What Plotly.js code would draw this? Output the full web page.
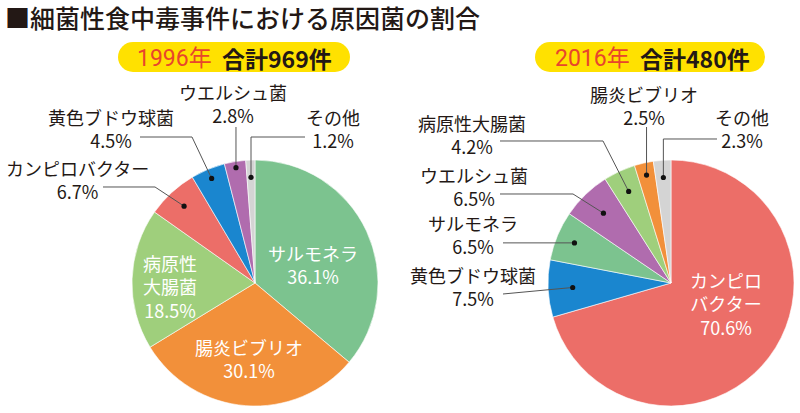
<!DOCTYPE html>
<html><head><meta charset="utf-8">
<script src="https://cdn.plot.ly/plotly-3.0.1.min.js"></script>
<style>html,body{margin:0;padding:0;background:#fff}#chart{width:800px;height:413px}</style>
</head><body><div id="chart"></div>
<script>
const W = 800, H = 413;

// ---------- data ----------
const titleText = '■細菌性食中毒事件における原因菌の割合';
const years = [1996, 2016];
const totals = [969, 480];
const cats1996 = ['サルモネラ', '腸炎ビブリオ', '病原性大腸菌', 'カンピロバクター', '黄色ブドウ球菌', 'ウエルシュ菌', 'その他'];
const vals1996 = [36.1, 30.1, 18.5, 6.7, 4.5, 2.8, 1.2];
const cats2016 = ['カンピロバクター', '黄色ブドウ球菌', 'サルモネラ', 'ウエルシュ菌', '病原性大腸菌', '腸炎ビブリオ', 'その他'];
const vals2016 = [70.6, 7.5, 6.5, 6.5, 4.2, 2.5, 2.3];

// ---------- styles / layout ----------
const FONT = '"Noto Sans CJK JP", "Noto Sans", sans-serif';
const PILLFONT = 'Roboto, "Noto Sans CJK JP", sans-serif';
const INK = '#231815';
const colorMap = {
  'サルモネラ': '#7cc38f', '腸炎ビブリオ': '#f2903a', '病原性大腸菌': '#9fcf7c',
  'カンピロバクター': '#ec6e68', '黄色ブドウ球菌': '#1a86cf', 'ウエルシュ菌': '#b06cae', 'その他': '#d4d4d4'
};
const pieGeo = [{cx: 255, cy: 283, r: 123}, {cx: 671, cy: 283, r: 123}];
const pillGeo = [{x0: 118, x1: 350, y0: 42, y1: 72, gap: 217}, {x0: 535, x1: 765, y0: 42, y1: 72, gap: 635}];

const labelCfg = [
  { // 1996
    inside: {
      'サルモネラ': {x: 313, y: 264},
      '腸炎ビブリオ': {x: 249, y: 358},
      '病原性大腸菌': {x: 170, y: 286, split: ['病原性', '大腸菌']}
    },
    outside: {
      'カンピロバクター': {x: 77, y: 179, kind: 'elbow', start: [103, 187], elbow: 155, f: 0.85},
      '黄色ブドウ球菌': {x: 111, y: 129, kind: 'elbow', start: [140, 137], elbow: 192, f: 0.92},
      'ウエルシュ菌': {x: 233, y: 104, kind: 'vert', startY: 127, f: 0.95},
      'その他': {x: 333, y: 129, kind: 'hv', start: [305, 137], f: 0.86}
    }
  },
  { // 2016
    inside: {
      'カンピロバクター': {x: 726, y: 303, split: ['カンピロ', 'バクター']}
    },
    outside: {
      '腸炎ビブリオ': {x: 644, y: 105, kind: 'vert', startY: 127, f: 0.90},
      'その他': {x: 742, y: 129, kind: 'hv', start: [717, 139], f: 0.86},
      '病原性大腸菌': {x: 472, y: 134, kind: 'elbow', start: [500, 141], elbow: 603, f: 0.82},
      'ウエルシュ菌': {x: 474, y: 186, kind: 'elbow', start: [500, 194], elbow: 573, f: 0.79},
      'サルモネラ': {x: 473, y: 234, kind: 'h', startX: 503, f: 0.85},
      '黄色ブドウ球菌': {x: 473, y: 286, kind: 'direct', start: [503, 294], f: 0.80}
    }
  }
];

const px = x => x / W;
const py = y => 1 - y / H;

const datasets = [
  {cats: cats1996, vals: vals1996},
  {cats: cats2016, vals: vals2016}
];

const traces = [];
const annotations = [];
const shapes = [];

// title
annotations.push({
  text: titleText, xref: 'paper', yref: 'paper', x: px(3), y: py(17),
  xanchor: 'left', yanchor: 'middle', showarrow: false,
  font: {family: FONT, size: 25, color: INK, weight: 500}
});

datasets.forEach((ds, i) => {
  const g = pieGeo[i];
  traces.push({
    type: 'pie', labels: ds.cats, values: ds.vals, sort: false,
    direction: 'clockwise', rotation: 0, textinfo: 'none',
    hoverinfo: 'label+value', showlegend: false,
    marker: {colors: ds.cats.map(c => colorMap[c]), line: {color: '#ffffff', width: 0.6}},
    domain: {x: [px(g.cx - g.r), px(g.cx + g.r)], y: [py(g.cy + g.r), py(g.cy - g.r)]}
  });

  // pill
  const p = pillGeo[i];
  const h = p.y1 - p.y0;
  const pillStyle = {xref: 'paper', yref: 'paper', fillcolor: '#ffe100', line: {width: 0}, layer: 'below'};
  shapes.push(Object.assign({type: 'rect', x0: px(p.x0 + h / 2), x1: px(p.x1 - h / 2), y0: py(p.y1), y1: py(p.y0)}, pillStyle));
  shapes.push(Object.assign({type: 'circle', x0: px(p.x0), x1: px(p.x0 + h), y0: py(p.y1), y1: py(p.y0)}, pillStyle));
  shapes.push(Object.assign({type: 'circle', x0: px(p.x1 - h), x1: px(p.x1), y0: py(p.y1), y1: py(p.y0)}, pillStyle));
  const pyMid = py((p.y0 + p.y1) / 2 + 1);
  annotations.push({
    text: years[i] + '年', xref: 'paper', yref: 'paper', x: px(p.gap - 3), y: pyMid,
    xanchor: 'right', yanchor: 'middle', showarrow: false,
    font: {family: PILLFONT, size: 23, color: '#e8452c'}
  });
  annotations.push({
    text: '合計' + totals[i] + '件', xref: 'paper', yref: 'paper', x: px(p.gap + 3), y: pyMid,
    xanchor: 'left', yanchor: 'middle', showarrow: false,
    font: {family: FONT, size: 23, color: INK, weight: 'bold'}
  });

  // angles
  const total = ds.vals.reduce((a, b) => a + b, 0);
  let cum = 0;
  const mid = {};
  ds.cats.forEach((c, k) => {
    mid[c] = (cum + ds.vals[k] / 2) / total * 2 * Math.PI;
    cum += ds.vals[k];
  });
  const pct = c => ds.vals[ds.cats.indexOf(c)].toFixed(1) + '%';

  const cfg = labelCfg[i];
  Object.keys(cfg.inside).forEach(c => {
    const L = cfg.inside[c];
    const lines = (L.split || [c]).concat([pct(c)]);
    annotations.push({
      text: lines.join('<br>'), xref: 'paper', yref: 'paper', x: px(L.x), y: py(L.y),
      xanchor: 'center', yanchor: 'middle', align: 'center', showarrow: false,
      font: {family: FONT, size: 18, color: '#ffffff'}
    });
  });

  Object.keys(cfg.outside).forEach(c => {
    const L = cfg.outside[c];
    annotations.push({
      text: c + '<br>' + pct(c), xref: 'paper', yref: 'paper', x: px(L.x), y: py(L.y),
      xanchor: 'center', yanchor: 'middle', align: 'center', showarrow: false,
      font: {family: FONT, size: 18, color: INK}
    });
    const a = mid[c];
    const dx = g.cx + L.f * g.r * Math.sin(a);
    const dy = g.cy - L.f * g.r * Math.cos(a);
    let pts;
    if (L.kind === 'elbow') pts = [L.start, [L.elbow, L.start[1]], [dx, dy]];
    else if (L.kind === 'vert') pts = [[dx, L.startY], [dx, dy]];
    else if (L.kind === 'hv') pts = [L.start, [dx, L.start[1]], [dx, dy]];
    else if (L.kind === 'h') pts = [[L.startX, dy], [dx, dy]];
    else pts = [L.start, [dx, dy]];
    const path = pts.map((q, k) => (k ? 'L' : 'M') + px(q[0]).toFixed(5) + ',' + py(q[1]).toFixed(5)).join(' ');
    shapes.push({type: 'path', path: path, xref: 'paper', yref: 'paper', line: {color: '#555555', width: 1}});
    const rr = 2.6;
    shapes.push({type: 'circle', xref: 'paper', yref: 'paper',
      x0: px(dx - rr), x1: px(dx + rr), y0: py(dy + rr), y1: py(dy - rr),
      fillcolor: '#111111', line: {width: 0}});
  });
});

Plotly.newPlot('chart', traces, {
  width: W, height: H,
  margin: {l: 0, r: 0, t: 0, b: 0},
  paper_bgcolor: '#ffffff', plot_bgcolor: '#ffffff',
  showlegend: false,
  annotations: annotations, shapes: shapes,
  font: {family: FONT}
}, {displayModeBar: false, staticPlot: true});
</script>
</body></html>
